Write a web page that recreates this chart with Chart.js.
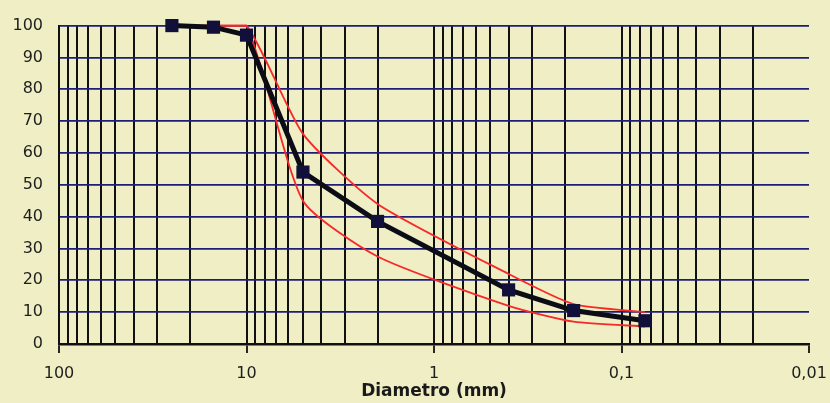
<!DOCTYPE html>
<html>
<head>
<meta charset="utf-8">
<script src="https://cdn.jsdelivr.net/npm/chart.js@4.4.1/dist/chart.umd.min.js"></script>
<style>
  html, body { margin: 0; padding: 0; background: #efeec4; }
  #wrap { width: 830px; height: 403px; }
</style>
</head>
<body>
<div id="wrap"><canvas id="curva"></canvas></div>
<script>
// setacci (mm) e percentuali di passante
const diametri = [25, 15, 10, 5, 2, 0.4, 0.18, 0.075];
const passante = [100, 99.5, 97, 54, 38.5, 17, 10.5, 7.3];
// fuso granulometrico
const fusoSup = [100, 100, 100, 66, 44, 22, 12.5, 10];
const fusoInf = [100, 100, 100, 45, 27.5, 12, 7, 5.5];
// etichette asse x
const decadi = [100, 10, 1, 0.1, 0.01];
const etichetteX = ['100', '10', '1', '0,1', '0,01'];

function punti(ys) {
    return diametri.map((d, i) => ({x: d, y: ys[i]}));
}

function isDecade(v) {
    return decadi.some(d => Math.abs(v - d) < d * 1e-6);
}

const sfondo = {
    id: 'sfondo',
    beforeDraw(chart) {
        const ctx = chart.ctx;
        ctx.save();
        ctx.fillStyle = '#efeec4';
        ctx.fillRect(0, 0, chart.width, chart.height);
        ctx.restore();
    }
};

const font = {family: 'DejaVu Sans', size: 16};

var config = {
    type: 'scatter',
    data: {
        datasets: [{
            label: 'Passante',
            data: punti(passante),
            showLine: true,
            borderColor: '#0c0c16',
            borderWidth: 5,
            backgroundColor: '#10103a',
            pointStyle: 'rect',
            pointRadius: 9.3,
            pointBorderWidth: 0,
            tension: 0,
            clip: false,
            order: 0
        }, {
            label: 'Fuso sup',
            data: punti(fusoSup),
            showLine: true,
            borderColor: '#f8282a',
            borderWidth: 1.8,
            pointRadius: 0,
            tension: 0.2,
            clip: false,
            order: 1
        }, {
            label: 'Fuso inf',
            data: punti(fusoInf),
            showLine: true,
            borderColor: '#f8282a',
            borderWidth: 1.8,
            pointRadius: 0,
            tension: 0.2,
            clip: false,
            order: 1
        }]
    },
    options: {
        responsive: false,
        animation: false,
        layout: {padding: {top: 22, right: 21, left: 0, bottom: 0}},
        plugins: {
            legend: {display: false},
            tooltip: {enabled: false}
        },
        scales: {
            x: {
                type: 'logarithmic',
                reverse: true,
                min: 0.01,
                max: 100,
                afterBuildTicks: scale => {
                    const t = [];
                    for (let e = -2; e <= 1; e++) {
                        for (let m = 1; m <= 9; m++) {
                            t.push({value: +(m * Math.pow(10, e)).toPrecision(3)});
                        }
                    }
                    t.push({value: 100});
                    scale.ticks = t;
                },
                afterFit: scale => { scale.height = 59; },
                ticks: {
                    autoSkip: false,
                    maxRotation: 0,
                    padding: 11,
                    color: '#1e1e1e',
                    font: font,
                    callback: function (value) {
                        const i = decadi.findIndex(d => Math.abs(value - d) < d * 1e-6);
                        return i >= 0 ? etichetteX[i] : '';
                    }
                },
                grid: {
                    color: ctx => (ctx.tick && Math.abs(ctx.tick.value - 0.01) < 1e-9) ? 'rgba(0,0,0,0)' : '#111111',
                    lineWidth: 2,
                    tickLength: 9,
                    tickColor: ctx => (ctx.tick && isDecade(ctx.tick.value)) ? '#111111' : 'rgba(0,0,0,0)',
                    tickWidth: 1.8
                },
                border: {display: true, color: '#111111', width: 2.5},
                title: {
                    display: true,
                    text: 'Diametro (mm)',
                    color: '#1a1a1a',
                    font: {family: 'DejaVu Sans', size: 17, weight: 'bold'},
                    padding: {top: 0, bottom: 1}
                }
            },
            y: {
                min: 0,
                max: 100,
                afterFit: scale => { scale.width = 59; },
                ticks: {
                    stepSize: 10,
                    padding: 16,
                    color: '#1e1e1e',
                    font: font
                },
                grid: {
                    color: '#1e1e78',
                    lineWidth: 1.8,
                    drawTicks: false
                },
                border: {display: true, color: '#111111', width: 2}
            }
        }
    },
    plugins: [sfondo]
};

var canvasElement = document.getElementById('curva');
canvasElement.width = 830;
canvasElement.height = 403;
window.grafico = new Chart(canvasElement, config);
</script>
</body>
</html>
